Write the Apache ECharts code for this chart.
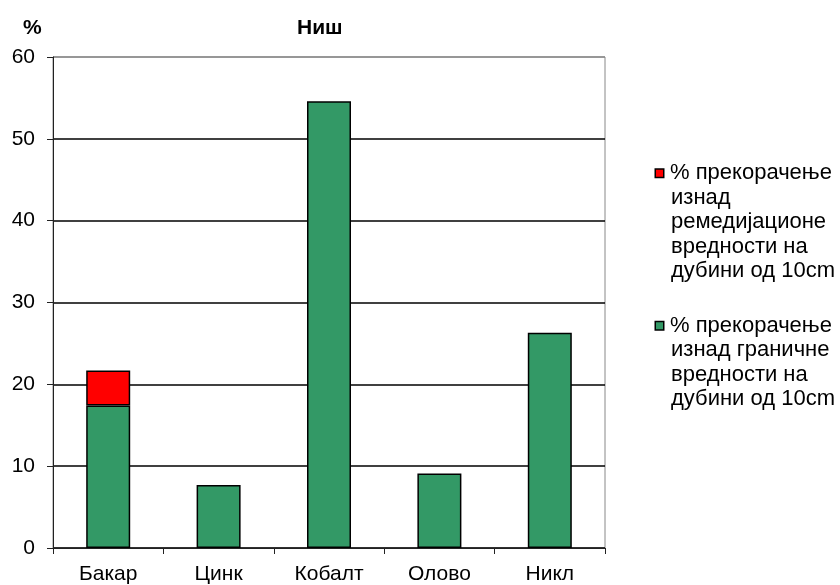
<!DOCTYPE html>
<html>
<head>
<meta charset="utf-8">
<script src="https://cdn.jsdelivr.net/npm/echarts@6/dist/echarts.min.js"></script>
<style>html,body{margin:0;padding:0;background:#fff}#c{width:840px;height:585px}</style>
</head>
<body>
<div id="c"></div>
<script>
const categories = ['Бакар', 'Цинк', 'Кобалт', 'Олово', 'Никл'];
const limitValues = [17.4, 7.7, 54.6, 9.1, 26.3];
const remediationValues = [4.3, null, null, null, null];
const yTicks = [0, 10, 20, 30, 40, 50, 60];
const seriesNames = [
  '% прекорачење изнад ремедијационе вредности на дубини од 10cm',
  '% прекорачење изнад граничне вредности на дубини од 10cm'
];
const legendLines = [
  ['% прекорачење', 'изнад', 'ремедијационе', 'вредности на', 'дубини од 10cm'],
  ['% прекорачење', 'изнад граничне', 'вредности на', 'дубини од 10cm']
];
const GREEN = '#339966', RED = '#FF0000';
const font = 'Liberation Sans, Arial, sans-serif';

const chart = echarts.init(document.getElementById('c'));

function legendText(lines, key) {
  return lines.map((l, i) => i === 0 ? '{' + key + '|}{t|' + l + '}' : '{ind|}{t|' + l + '}').join('\n');
}

chart.setOption({
  animation: false,
  backgroundColor: '#fff',
  textStyle: { fontFamily: font },
  title: [
    { text: 'Ниш', left: 292, top: 13, textStyle: { fontSize: 21, fontWeight: 'bold', color: '#000', fontFamily: font } },
    { text: '%', left: 18, top: 13, textStyle: { fontSize: 21, fontWeight: 'bold', color: '#000', fontFamily: font } }
  ],
  grid: { left: 53, right: 235, top: 57, bottom: 36, show: true, borderColor: '#888', borderWidth: 1 },
  legend: {
    orient: 'vertical',
    left: 650,
    top: 161,
    padding: 0,
    itemWidth: 0,
    itemHeight: 0,
    itemGap: 30,
    icon: 'rect',
    data: [seriesNames[0], seriesNames[1]],
    formatter: function (name) {
      const idx = seriesNames.indexOf(name);
      return legendText(legendLines[idx], idx === 0 ? 'r' : 'g');
    },
    textStyle: {
      fontFamily: font,
      fontSize: 22,
      color: '#000',
      lineHeight: 24.5,
      rich: {
        r: { width: 7, height: 7, backgroundColor: RED, borderColor: '#000', borderWidth: 1.5 },
        g: { width: 7, height: 7, backgroundColor: GREEN, borderColor: '#000', borderWidth: 1.5 },
        ind: { width: 8 },
        t: { fontSize: 22, fontFamily: font, color: '#000', lineHeight: 24.5, padding: [0, 0, 0, 7] }
      }
    },
    selectedMode: false
  },
  xAxis: {
    type: 'category',
    data: categories,
    axisLine: { lineStyle: { color: '#222', width: 1 } },
    axisTick: { show: true, alignWithLabel: false, length: 6, lineStyle: { color: '#222' } },
    axisLabel: { color: '#000', fontSize: 21, fontFamily: font, margin: 16, interval: 0 }
  },
  yAxis: {
    type: 'value',
    min: 0,
    max: 60,
    interval: 10,
    axisLine: { show: true, lineStyle: { color: '#222', width: 1 } },
    axisTick: { show: true, length: 6, lineStyle: { color: '#222' } },
    axisLabel: { color: '#000', fontSize: 21, fontFamily: font, margin: 18 },
    splitLine: { show: true, lineStyle: { color: ['#000', '#000', '#000', '#000', '#000', '#000', '#888'], width: 1.5 } }
  },
  series: [
    {
      name: seriesNames[1],
      type: 'bar',
      stack: 'a',
      data: limitValues,
      barWidth: 44,
      itemStyle: { color: GREEN, borderColor: '#000', borderWidth: 1.5 }
    },
    {
      name: seriesNames[0],
      type: 'bar',
      stack: 'a',
      data: remediationValues,
      barWidth: 44,
      itemStyle: { color: RED, borderColor: '#000', borderWidth: 1.5 }
    }
  ]
});
</script>
</body>
</html>
